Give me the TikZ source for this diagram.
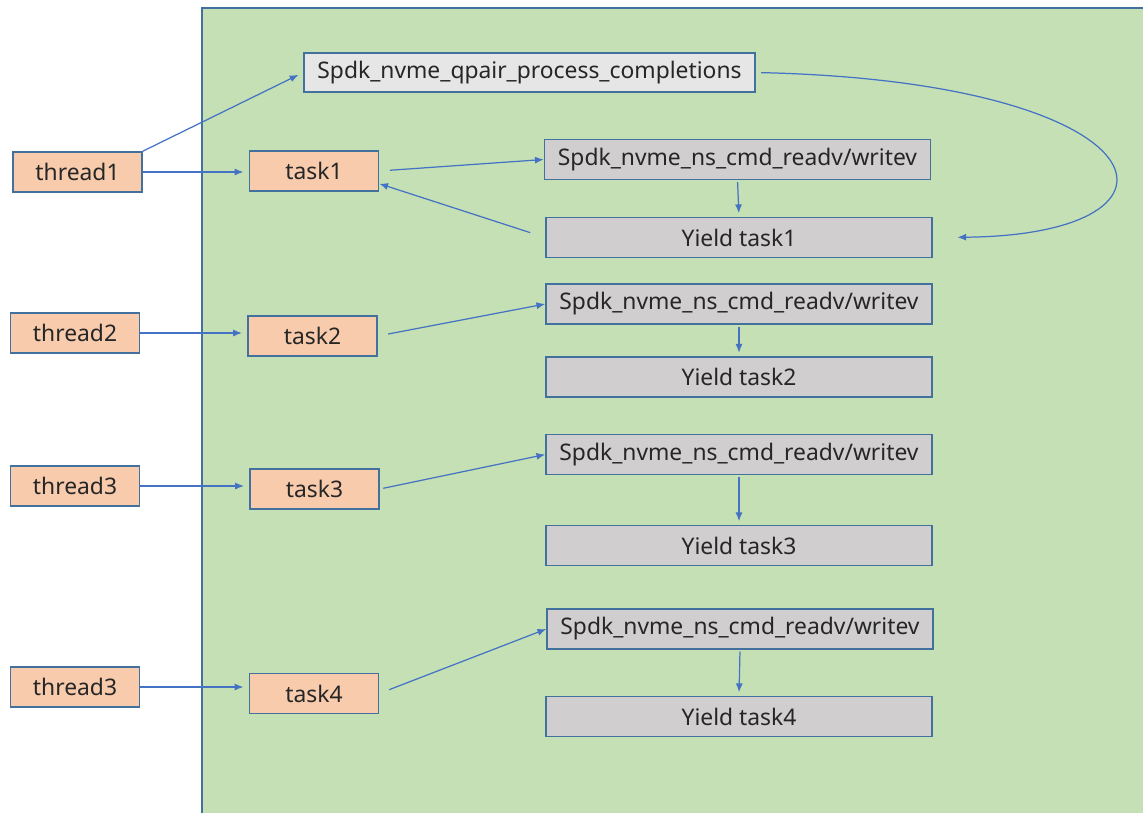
\documentclass[tikz,border=0pt]{standalone}
\usepackage{fontspec}
\setmainfont{Noto Sans}
\usetikzlibrary{arrows.meta}

\definecolor{boxline}{HTML}{41719C}
\definecolor{arrowblue}{HTML}{4472C4}
\definecolor{bggreen}{HTML}{C5E0B4}
\definecolor{orangefill}{HTML}{F8CBAD}
\definecolor{grayfill}{HTML}{D0CECE}
\definecolor{lightfill}{HTML}{E7E6E6}

\tikzset{
	box/.style={draw=boxline, line width=0.9pt, minimum height=0.8cm, inner sep=2pt,
		font=\fontsize{13}{15}\selectfont, text=black!85},
	thrbox/.style={box, fill=orangefill, minimum width=2.58cm},
	callbox/.style={box, fill=grayfill, minimum width=7.72cm},
	arr/.style={draw=arrowblue, line width=0.7pt, -{Latex[length=5pt,width=4pt]}}
}

\begin{document}
\begin{tikzpicture}[x=0.02cm, y=-0.02cm]
			\useasboundingbox (0,0) rectangle (1143,812);
			
			% green area
			\fill [bggreen] (202,8) rectangle (1150,820);
			\draw [boxline, line width=1.2pt] (202,820) -- (202,8) -- (1150,8);
			
			\node [box, fill=lightfill, minimum width=9.02cm, minimum height=0.78cm] (qpair) at (529.5,72.5) {Spdk\_nvme\_qpair\_process\_completions};
			
			\node [thrbox] (th1) at (77.5,172) {thread1};
			\node [thrbox] (th2) at (75,333) {thread2};
			\node [thrbox] (th3) at (75,486) {thread3};
			\node [thrbox] (th4) at (75,687) {thread3};
			
			\node [thrbox] (task1) at (314,171) {task1};
			\node [thrbox] (task2) at (312.5,336) {task2};
			\node [thrbox] (task3) at (314.5,489) {task3};
			\node [thrbox] (task4) at (314,693.5) {task4};
			
			\node [callbox] (cmd1) at (737.5,159.5) {Spdk\_nvme\_ns\_cmd\_readv/writev};
			\node [callbox] (yield1) at (739,237.5) {Yield task1};
			\node [callbox] (cmd2) at (739,304) {Spdk\_nvme\_ns\_cmd\_readv/writev};
			\node [callbox] (yield2) at (739,377) {Yield task2};
			\node [callbox] (cmd3) at (739,454.5) {Spdk\_nvme\_ns\_cmd\_readv/writev};
			\node [callbox] (yield3) at (739,545.5) {Yield task3};
			\node [callbox] (cmd4) at (740,629) {Spdk\_nvme\_ns\_cmd\_readv/writev};
			\node [callbox] (yield4) at (739,716.5) {Yield task4};
			
			% thread -> task
			\draw [arr, shorten >=3pt] (th1.north east) -- (qpair.west);
			\foreach \i in {1,...,4}
				\draw [arr, shorten >=3pt] (th\i.east) -- (th\i.east -| task\i.west);
			
			% task -> cmd -> yield
			\draw [arr, shorten <=6pt] (task1.east) -- (cmd1.west);
			\draw [arr, shorten <=6pt] (task2.east) -- (cmd2.west);
			\draw [arr, shorten <=2pt] (task3.east) -- (cmd3.west);
			\draw [arr, shorten <=6pt] (task4.east) -- (cmd4.west);
			\foreach \i in {1,...,4}
				\draw [arr, shorten <=1pt, shorten >=2pt] (cmd\i.south) -- (yield\i.north);
			
			% back to task1
			\draw [arr, shorten <=9pt] (yield1.west) -- (task1.-11);
			\draw [arr, shorten <=3pt, shorten >=14pt] (qpair.east) .. controls (1170,82) and (1210,235) .. (yield1.east);
		\end{tikzpicture}
\end{document}
